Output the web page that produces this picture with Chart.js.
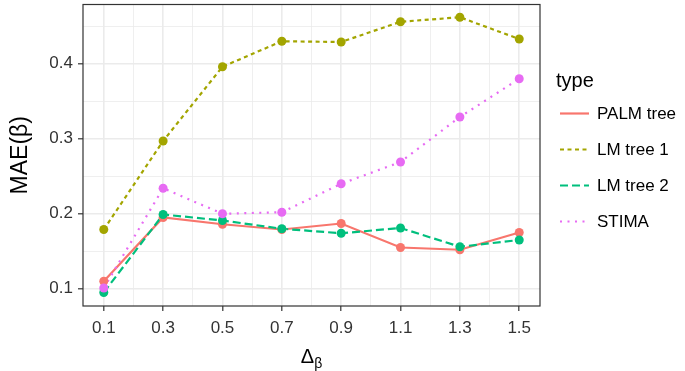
<!DOCTYPE html>
<html>
<head>
<meta charset="utf-8">
<script src="https://cdn.jsdelivr.net/npm/chart.js@4.4.1/dist/chart.umd.min.js"></script>
<style>
  html, body { margin: 0; padding: 0; background: #fff; }
  canvas { display: block; }
</style>
</head>
<body>
<canvas id="maeChart" width="685" height="371"></canvas>
<script>
// values
const deltas = [0.1, 0.3, 0.5, 0.7, 0.9, 1.1, 1.3, 1.5];
const palmTree = [0.110, 0.195, 0.186, 0.179, 0.187, 0.155, 0.152, 0.175];
const lmTree1 = [0.179, 0.297, 0.396, 0.430, 0.429, 0.456, 0.462, 0.433];
const lmTree2 = [0.095, 0.199, 0.191, 0.180, 0.174, 0.181, 0.156, 0.165];
const stima = [0.101, 0.234, 0.200, 0.202, 0.240, 0.269, 0.329, 0.380];

const seriesNames = ['PALM tree', 'LM tree 1', 'LM tree 2', 'STIMA'];
const xTicks = [0.1, 0.3, 0.5, 0.7, 0.9, 1.1, 1.3, 1.5];
const xMinor = [0.2, 0.4, 0.6, 0.8, 1.0, 1.2, 1.4];
const yTicks = [0.1, 0.2, 0.3, 0.4];
const yMinor = [0.15, 0.25, 0.35, 0.45];

const colors = ['#F8766D', '#A3A500', '#00BF7D', '#E76BF3'];
const dashes = [[], [4, 3.5], [8, 4], [2, 5.5]];

const allSeries = [palmTree, lmTree1, lmTree2, stima];

function toPoints(values) {
    return deltas.map((d, i) => ({ x: d, y: values[i] }));
}

function isMajor(list, v) {
    return list.some(t => Math.abs(t - v) < 1e-6);
}

const datasets = [];
// lines first (underneath), then points on top like ggplot
allSeries.forEach((s, i) => {
    datasets.push({
        label: seriesNames[i],
        data: toPoints(s),
        borderColor: colors[i],
        borderWidth: 2.2,
        borderDash: dashes[i],
        pointRadius: 0,
        fill: false,
        tension: 0,
        order: 8 - i
    });
});
allSeries.forEach((s, i) => {
    datasets.push({
        label: seriesNames[i] + ' pts',
        data: toPoints(s),
        showLine: false,
        pointRadius: 4.5,
        pointBorderWidth: 0,
        pointBackgroundColor: colors[i],
        pointHoverRadius: 4.5,
        order: 4 - i
    });
});

const textFont = '"Liberation Sans", Arial, Helvetica, sans-serif';

const decorPlugin = {
    id: 'decor',
    afterDraw(chart) {
        const ctx = chart.ctx;
        const area = chart.chartArea;
        ctx.save();

        // panel border
        ctx.strokeStyle = '#333333';
        ctx.lineWidth = 1.2;
        ctx.strokeRect(area.left, area.top, area.right - area.left, area.bottom - area.top);

        ctx.fillStyle = '#000';

        // y axis title
        ctx.save();
        ctx.translate(27, (area.top + area.bottom) / 2);
        ctx.rotate(-Math.PI / 2);
        ctx.font = '23px ' + textFont;
        ctx.textAlign = 'center';
        ctx.textBaseline = 'alphabetic';
        ctx.fillText('MAE(β)', 0, 0);
        ctx.restore();

        // x axis title with subscript
        const cx = (area.left + area.right) / 2;
        ctx.font = '20px ' + textFont;
        const wD = ctx.measureText('Δ').width;
        ctx.font = '14px ' + textFont;
        const wB = ctx.measureText('β').width;
        const startX = cx - (wD + wB) / 2;
        ctx.textAlign = 'left';
        ctx.textBaseline = 'alphabetic';
        ctx.font = '20px ' + textFont;
        ctx.fillText('Δ', startX, 363);
        ctx.font = '14px ' + textFont;
        ctx.fillText('β', startX + wD, 368);

        // legend
        ctx.font = '20px ' + textFont;
        ctx.fillText('type', 556, 87);
        const rowY = [113.5, 149.5, 185.5, 221.5];
        ctx.font = '17px ' + textFont;
        ctx.textBaseline = 'middle';
        seriesNames.forEach((name, i) => {
            ctx.beginPath();
            ctx.strokeStyle = colors[i];
            ctx.lineWidth = 2.2;
            ctx.setLineDash(dashes[i]);
            ctx.moveTo(560, rowY[i]);
            ctx.lineTo(589, rowY[i]);
            ctx.stroke();
            ctx.setLineDash([]);
            ctx.fillStyle = '#000';
            ctx.fillText(name, 597, rowY[i] + 1);
        });

        ctx.restore();
    }
};

new Chart(document.getElementById('maeChart'), {
    type: 'line',
    data: { datasets: datasets },
    options: {
        responsive: false,
        animation: false,
        layout: { padding: { top: 1, right: 145, left: 0, bottom: 0 } },
        plugins: {
            legend: { display: false },
            tooltip: { enabled: false }
        },
        scales: {
            x: {
                type: 'linear',
                min: 0.03,
                max: 1.57,
                afterBuildTicks(scale) {
                    scale.ticks = xTicks.concat(xMinor).sort((a, b) => a - b).map(v => ({ value: v }));
                },
                afterFit(scale) {
                    scale.height = 65;
                    scale.paddingLeft = 0;
                    scale.paddingRight = 0;
                },
                border: { display: false },
                grid: {
                    color: '#EBEBEB',
                    lineWidth: ctx => isMajor(xTicks, ctx.tick.value) ? 1.6 : 0.8,
                    tickColor: ctx => isMajor(xTicks, ctx.tick.value) ? '#333333' : 'rgba(0,0,0,0)',
                    tickWidth: 1.2,
                    tickLength: 5
                },
                ticks: {
                    autoSkip: false,
                    maxRotation: 0,
                    padding: 7,
                    color: '#333333',
                    font: { family: textFont, size: 17 },
                    callback: v => isMajor(xTicks, v) ? v.toFixed(1) : ''
                }
            },
            y: {
                type: 'linear',
                min: 0.077,
                max: 0.479,
                afterBuildTicks(scale) {
                    scale.ticks = yTicks.concat(yMinor).sort((a, b) => a - b).map(v => ({ value: v }));
                },
                afterFit(scale) {
                    scale.width = 83;
                    scale.paddingTop = 0;
                    scale.paddingBottom = 0;
                },
                border: { display: false },
                grid: {
                    color: '#EBEBEB',
                    lineWidth: ctx => isMajor(yTicks, ctx.tick.value) ? 1.6 : 0.8,
                    tickColor: ctx => isMajor(yTicks, ctx.tick.value) ? '#333333' : 'rgba(0,0,0,0)',
                    tickWidth: 1.2,
                    tickLength: 5
                },
                ticks: {
                    padding: 5,
                    color: '#333333',
                    font: { family: textFont, size: 17 },
                    callback: v => isMajor(yTicks, v) ? v.toFixed(1) : ''
                }
            }
        }
    },
    plugins: [decorPlugin]
});
</script>
</body>
</html>
